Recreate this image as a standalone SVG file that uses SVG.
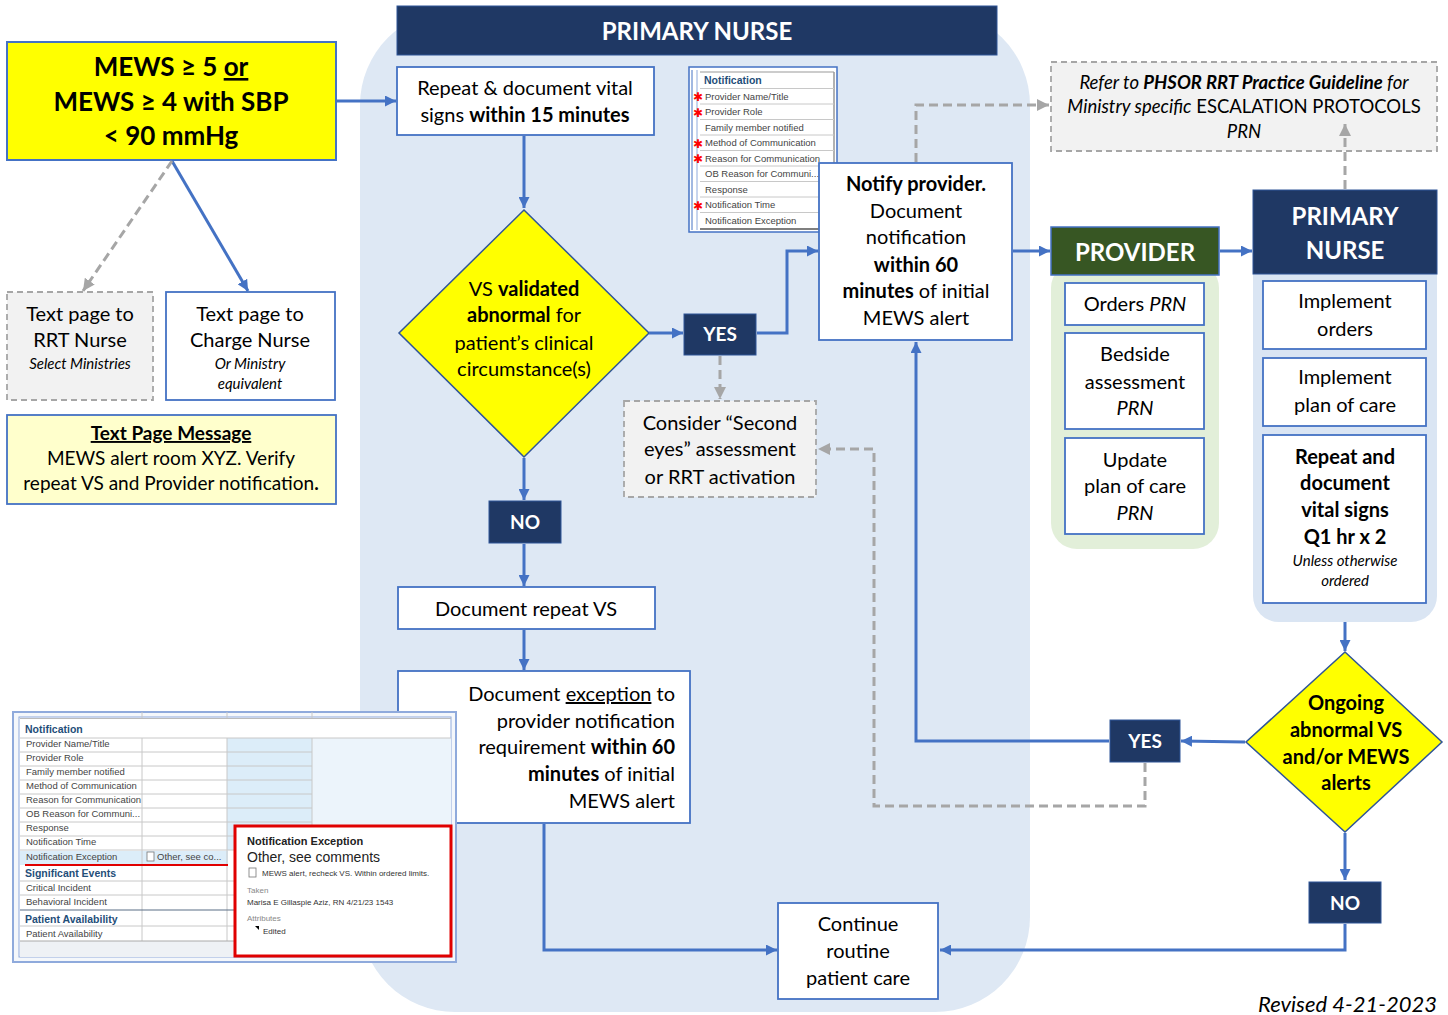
<svg xmlns="http://www.w3.org/2000/svg" width="1448" height="1015" viewBox="0 0 1448 1015">
<defs>
<style>
text{font-family:Lato,"Liberation Sans",sans-serif;fill:#000}
.t{font-size:20px;text-anchor:middle}
.b{font-weight:bold}
.i{font-style:italic}
.hd{font-size:24px;font-weight:bold;fill:#fff;text-anchor:middle}
.yn{font-size:19px;font-weight:bold;fill:#fff;text-anchor:middle}
.sm{font-size:15px;font-style:italic;text-anchor:middle}
.box{fill:#fff;stroke:#4472c4;stroke-width:1.8}
.gbox{fill:#f2f2f2;stroke:#a6a6a6;stroke-width:1.8;stroke-dasharray:6 4}
.navy{fill:#1f3864;stroke:#2f5597;stroke-width:1}
.c{fill:none;stroke:#4472c4;stroke-width:3}
.d{fill:none;stroke:#a6a6a6;stroke-width:3;stroke-dasharray:9 5}
.tb{font-family:"Liberation Sans",Arial,sans-serif;font-size:9.5px;fill:#444}
.th{font-family:"Liberation Sans",Arial,sans-serif;font-size:10.5px;font-weight:bold;fill:#1f4e79}
.gl{stroke:#c8c8c8;stroke-width:1}
.ast{font-family:"DejaVu Sans",sans-serif;font-size:12px;fill:#ff0000;text-anchor:middle}
.pp{font-family:"Liberation Sans",Arial,sans-serif;font-size:8px;fill:#333}
</style>
<marker id="ab" viewBox="0 0 10 10" refX="10" refY="5" markerWidth="11" markerHeight="11" markerUnits="userSpaceOnUse" orient="auto"><path d="M0,0 L10,5 L0,10 z" fill="#4472c4"/></marker>
<marker id="ag" viewBox="0 0 10 10" refX="10" refY="5" markerWidth="12" markerHeight="12" markerUnits="userSpaceOnUse" orient="auto"><path d="M0,0 L10,5 L0,10 z" fill="#a6a6a6"/></marker>
</defs>

<!-- lane backgrounds -->
<rect x="360" y="10" width="670" height="1002" rx="95" fill="#dee8f4"/>
<rect x="1051" y="262" width="168" height="287" rx="26" fill="#e2efd9"/>
<rect x="1253" y="240" width="184" height="382" rx="26" fill="#dae5f3"/>

<g id="mews">
<rect x="7" y="42" width="329" height="118" fill="#ffff00" stroke="#4472c4" stroke-width="2"/>
<text class="t b" x="171" y="76" style="font-size:26px">MEWS ≥ 5 <tspan text-decoration="underline">or</tspan></text>
<text class="t b" x="171" y="111" style="font-size:26px">MEWS ≥ 4 with SBP</text>
<text class="t b" x="171" y="145" style="font-size:26px">&lt; 90 mmHg</text>
</g>

<g id="rrt">
<rect class="gbox" x="7" y="292" width="146" height="108"/>
<text class="t" x="80" y="321">Text page to</text>
<text class="t" x="80" y="347">RRT Nurse</text>
<text class="sm" x="80" y="369">Select Ministries</text>
</g>

<g id="charge">
<rect class="box" x="166" y="292" width="169" height="108"/>
<text class="t" x="250" y="321">Text page to</text>
<text class="t" x="250" y="347">Charge Nurse</text>
<text class="sm" x="250" y="369">Or Ministry</text>
<text class="sm" x="250" y="389">equivalent</text>
</g>

<g id="message">
<rect x="7" y="415" width="329" height="89" fill="#ffffcc" stroke="#4472c4" stroke-width="1.8"/>
<text class="t b" x="171" y="440" style="font-size:19px" text-decoration="underline">Text Page Message</text>
<text class="t" x="171" y="465" style="font-size:19px">MEWS alert room XYZ. Verify</text>
<text class="t" x="171" y="490" style="font-size:19px">repeat VS and Provider notification<tspan class="b">.</tspan></text>
</g>

<g id="primary-nurse-header">
<rect class="navy" x="397" y="6" width="600" height="49"/>
<text class="hd" x="697" y="40">PRIMARY NURSE</text>
</g>

<g id="repeat15">
<rect class="box" x="397" y="67" width="257" height="68"/>
<text class="t" x="525" y="95">Repeat &amp; document vital</text>
<text class="t" x="525" y="122">signs <tspan class="b">within 15 minutes</tspan></text>
</g>

<g id="notif-small">
<rect x="689" y="67" width="148" height="165" fill="#fff" stroke="#4472c4" stroke-width="1.5"/>
<line x1="692" y1="70" x2="692" y2="230" stroke="#4472c4" stroke-width="1"/>
<line x1="697" y1="70" x2="697" y2="230" stroke="#8faadc" stroke-width="1"/>
<line x1="700" y1="72" x2="834" y2="72" stroke="#999" stroke-width="1"/>
<line x1="834" y1="72" x2="834" y2="229" stroke="#999" stroke-width="1.5"/>
<text class="th" x="704" y="84">Notification</text>
<g class="gl">
<line x1="700" y1="88.5" x2="834" y2="88.5"/><line x1="700" y1="104" x2="834" y2="104"/><line x1="700" y1="119.5" x2="834" y2="119.5"/><line x1="700" y1="135" x2="834" y2="135"/><line x1="700" y1="150.5" x2="834" y2="150.5"/><line x1="700" y1="166" x2="834" y2="166"/><line x1="700" y1="181.5" x2="834" y2="181.5"/><line x1="700" y1="197" x2="834" y2="197"/><line x1="700" y1="212.5" x2="834" y2="212.5"/>
</g>
<line x1="700" y1="229" x2="834" y2="229" stroke="#555" stroke-width="1.5"/>
<text class="tb" x="705" y="100">Provider Name/Title</text>
<text class="tb" x="705" y="115">Provider Role</text>
<text class="tb" x="705" y="131">Family member notified</text>
<text class="tb" x="705" y="146">Method of Communication</text>
<text class="tb" x="705" y="162">Reason for Communication</text>
<text class="tb" x="705" y="177">OB Reason for Communi...</text>
<text class="tb" x="705" y="193">Response</text>
<text class="tb" x="705" y="208">Notification Time</text>
<text class="tb" x="705" y="224">Notification Exception</text>
<text class="ast" x="698" y="101">✱</text>
<text class="ast" x="698" y="117">✱</text>
<text class="ast" x="698" y="148">✱</text>
<text class="ast" x="698" y="163">✱</text>
<text class="ast" x="698" y="210">✱</text>
</g>

<g id="vs-diamond">
<polygon points="524,210 649,333 524,457 399,333" fill="#ffff00" stroke="#2f5597" stroke-width="1.5"/>
<text class="t" x="524" y="296">VS <tspan class="b">validated</tspan></text>
<text class="t" x="524" y="322"><tspan class="b">abnormal</tspan> for</text>
<text class="t" x="524" y="350">patient’s clinical</text>
<text class="t" x="524" y="376">circumstance(s)</text>
</g>

<g id="yes1">
<rect class="navy" x="684" y="314" width="72" height="41"/>
<text class="yn" x="720" y="341">YES</text>
</g>

<g id="notify">
<rect class="box" x="819" y="163" width="193" height="177"/>
<text class="t b" x="916" y="191">Notify provider.</text>
<text class="t" x="916" y="218">Document</text>
<text class="t" x="916" y="244">notification</text>
<text class="t b" x="916" y="272">within 60</text>
<text class="t" x="916" y="298"><tspan class="b">minutes</tspan> of initial</text>
<text class="t" x="916" y="325">MEWS alert</text>
</g>

<g id="consider">
<rect class="gbox" x="624" y="401" width="192" height="96"/>
<text class="t" x="720" y="430">Consider “Second</text>
<text class="t" x="720" y="456">eyes” assessment</text>
<text class="t" x="720" y="484">or RRT activation</text>
</g>

<g id="no1">
<rect class="navy" x="489" y="501" width="72" height="42"/>
<text class="yn" x="525" y="529">NO</text>
</g>

<g id="doc-repeat">
<rect class="box" x="398" y="587" width="257" height="42"/>
<text class="t" x="526" y="616">Document repeat VS</text>
</g>

<g id="doc-exception">
<rect class="box" x="398" y="671" width="292" height="152"/>
<text class="t" x="675" y="701" style="text-anchor:end">Document <tspan text-decoration="underline">exception</tspan> to</text>
<text class="t" x="675" y="728" style="text-anchor:end">provider notification</text>
<text class="t" x="675" y="754" style="text-anchor:end">requirement <tspan class="b">within 60</tspan></text>
<text class="t" x="675" y="781" style="text-anchor:end"><tspan class="b">minutes</tspan> of initial</text>
<text class="t" x="675" y="808" style="text-anchor:end">MEWS alert</text>
</g>

<g id="notif-large">
<rect x="13" y="712" width="443" height="250" fill="#f4f7fb" stroke="#8faadc" stroke-width="2"/>
<rect x="19" y="717" width="432" height="240" fill="#fff" stroke="#8faadc" stroke-width="1"/>
<rect x="227" y="738" width="85" height="112" fill="#dcedf9"/>
<rect x="312" y="738" width="139" height="112" fill="#ecf4fb"/>
<rect x="20" y="851" width="208" height="14" fill="#dcedf9"/>
<rect x="20" y="941" width="430" height="16" fill="#eef1f5"/>
<line x1="20" y1="718.5" x2="451" y2="718.5" stroke="#bbb"/>
<g class="gl">
<line x1="20" y1="738" x2="451" y2="738"/><line x1="20" y1="752" x2="312" y2="752"/><line x1="20" y1="766" x2="312" y2="766"/><line x1="20" y1="780" x2="312" y2="780"/><line x1="20" y1="794" x2="312" y2="794"/><line x1="20" y1="808" x2="312" y2="808"/><line x1="20" y1="822" x2="312" y2="822"/><line x1="20" y1="836" x2="312" y2="836"/><line x1="20" y1="850" x2="312" y2="850"/>
<line x1="20" y1="881" x2="451" y2="881"/><line x1="20" y1="895" x2="451" y2="895"/><line x1="20" y1="926" x2="451" y2="926"/>
<line x1="142" y1="738" x2="142" y2="941"/><line x1="227" y1="738" x2="227" y2="941"/><line x1="312" y1="738" x2="312" y2="850"/>
<line x1="142" y1="712" x2="142" y2="718"/><line x1="227" y1="712" x2="227" y2="718"/><line x1="312" y1="712" x2="312" y2="718"/>
</g>
<line x1="20" y1="910" x2="451" y2="910" stroke="#5a6e86" stroke-width="1.2"/>
<line x1="20" y1="941" x2="451" y2="941" stroke="#aaa" stroke-width="1"/>
<line x1="25" y1="865" x2="228" y2="865" stroke="#e00000" stroke-width="2"/>
<text class="th" x="25" y="733">Notification</text>
<text class="tb" x="26" y="747">Provider Name/Title</text>
<text class="tb" x="26" y="761">Provider Role</text>
<text class="tb" x="26" y="775">Family member notified</text>
<text class="tb" x="26" y="789">Method of Communication</text>
<text class="tb" x="26" y="803">Reason for Communication</text>
<text class="tb" x="26" y="817">OB Reason for Communi...</text>
<text class="tb" x="26" y="831">Response</text>
<text class="tb" x="26" y="845">Notification Time</text>
<text class="tb" x="26" y="860">Notification Exception</text>
<rect x="147" y="852" width="7" height="9" fill="#fff" stroke="#777" stroke-width="0.8"/>
<text class="tb" x="157" y="860">Other, see co...</text>
<text class="th" x="25" y="877">Significant Events</text>
<text class="tb" x="26" y="891">Critical Incident</text>
<text class="tb" x="26" y="905">Behavioral Incident</text>
<text class="th" x="25" y="923">Patient Availability</text>
<text class="tb" x="26" y="937">Patient Availability</text>
<rect x="235" y="826" width="216" height="130" fill="#fff" stroke="#e00000" stroke-width="3"/>
<text x="247" y="845" style="font-family:'Liberation Sans',Arial,sans-serif;font-size:11px;font-weight:bold;fill:#222">Notification Exception</text>
<text x="247" y="862" style="font-family:'Liberation Sans',Arial,sans-serif;font-size:14px;fill:#222">Other, see comments</text>
<rect x="249" y="868" width="7" height="9" fill="#fff" stroke="#777" stroke-width="0.8"/>
<text class="pp" x="262" y="876">MEWS alert, recheck VS. Within ordered limits.</text>
<text class="pp" x="247" y="893" style="fill:#888">Taken</text>
<text class="pp" x="247" y="905">Marisa E Gillaspie Aziz, RN 4/21/23 1543</text>
<text class="pp" x="247" y="921" style="fill:#888">Attributes</text>
<path d="M255,926 L259,926 L259,930 z" fill="#000"/>
<text class="pp" x="263" y="934">Edited</text>
</g>

<g id="continue">
<rect class="box" x="778" y="903" width="160" height="96"/>
<text class="t" x="858" y="931">Continue</text>
<text class="t" x="858" y="958">routine</text>
<text class="t" x="858" y="985">patient care</text>
</g>

<g id="refer">
<rect class="gbox" x="1051" y="62" width="386" height="89"/>
<text class="t i" x="1244" y="89" style="font-size:18.5px">Refer to <tspan class="b">PHSOR RRT Practice Guideline</tspan> for</text>
<text class="t" x="1244" y="113" style="font-size:18.5px"><tspan class="i">Ministry specific</tspan> ESCALATION PROTOCOLS</text>
<text class="t i" x="1244" y="138" style="font-size:18.5px">PRN</text>
</g>

<g id="provider">
<rect x="1051" y="227" width="168" height="48" fill="#375623" stroke="#4472c4" stroke-width="1.5"/>
<text class="hd" x="1135" y="261">PROVIDER</text>
</g>
<g id="orders-prn">
<rect class="box" x="1065" y="283" width="139" height="42"/>
<text class="t" x="1135" y="311">Orders <tspan class="i">PRN</tspan></text>
</g>
<g id="bedside">
<rect class="box" x="1065" y="333" width="139" height="96"/>
<text class="t" x="1135" y="361">Bedside</text>
<text class="t" x="1135" y="389">assessment</text>
<text class="t i" x="1135" y="415">PRN</text>
</g>
<g id="update-plan">
<rect class="box" x="1065" y="438" width="139" height="96"/>
<text class="t" x="1135" y="467">Update</text>
<text class="t" x="1135" y="493">plan of care</text>
<text class="t i" x="1135" y="520">PRN</text>
</g>

<g id="primary-nurse-2">
<rect class="navy" x="1253" y="190" width="184" height="84"/>
<text class="hd" x="1345" y="225">PRIMARY</text>
<text class="hd" x="1345" y="259">NURSE</text>
</g>
<g id="impl-orders">
<rect class="box" x="1263" y="281" width="163" height="68"/>
<text class="t" x="1345" y="308">Implement</text>
<text class="t" x="1345" y="336">orders</text>
</g>
<g id="impl-plan">
<rect class="box" x="1263" y="358" width="163" height="68"/>
<text class="t" x="1345" y="384">Implement</text>
<text class="t" x="1345" y="412">plan of care</text>
</g>
<g id="repeat-q1">
<rect class="box" x="1263" y="435" width="163" height="168"/>
<text class="t b" x="1345" y="464">Repeat and</text>
<text class="t b" x="1345" y="490">document</text>
<text class="t b" x="1345" y="517">vital signs</text>
<text class="t b" x="1345" y="544">Q1 hr x 2</text>
<text class="sm" x="1345" y="566">Unless otherwise</text>
<text class="sm" x="1345" y="586">ordered</text>
</g>

<g id="ongoing">
<polygon points="1345,652 1442,742 1345,832 1246,742" fill="#ffff00" stroke="#2f5597" stroke-width="1.5"/>
<text class="t b" x="1346" y="710">Ongoing</text>
<text class="t b" x="1346" y="737">abnormal VS</text>
<text class="t b" x="1346" y="764">and/or MEWS</text>
<text class="t b" x="1346" y="790">alerts</text>
</g>

<g id="yes2">
<rect class="navy" x="1110" y="720" width="70" height="42"/>
<text class="yn" x="1145" y="748">YES</text>
</g>
<g id="no2">
<rect class="navy" x="1309" y="882" width="72" height="41"/>
<text class="yn" x="1345" y="910">NO</text>
</g>

<g id="connectors">
<line class="c" x1="336" y1="101" x2="396" y2="101" marker-end="url(#ab)"/>
<line class="c" x1="172" y1="161" x2="248" y2="291" marker-end="url(#ab)"/>
<line class="d" x1="172" y1="161" x2="83" y2="291" marker-end="url(#ag)"/>
<line class="c" x1="524" y1="136" x2="524" y2="208" marker-end="url(#ab)"/>
<line class="c" x1="649" y1="333" x2="683" y2="333" marker-end="url(#ab)"/>
<polyline class="c" points="757,333 787,333 787,251 818,251" marker-end="url(#ab)"/>
<line class="d" x1="720" y1="356" x2="720" y2="399" marker-end="url(#ag)"/>
<line class="c" x1="524" y1="458" x2="524" y2="500" marker-end="url(#ab)"/>
<line class="c" x1="524" y1="544" x2="524" y2="586" marker-end="url(#ab)"/>
<line class="c" x1="524" y1="630" x2="524" y2="670" marker-end="url(#ab)"/>
<polyline class="c" points="544,824 544,950 777,950" marker-end="url(#ab)"/>
<polyline class="d" points="916,162 916,105 1049,105" marker-end="url(#ag)"/>
<line class="c" x1="1013" y1="251" x2="1050" y2="251" marker-end="url(#ab)"/>
<line class="c" x1="1220" y1="251" x2="1252" y2="251" marker-end="url(#ab)"/>
<line class="d" x1="1345" y1="189" x2="1345" y2="124" marker-end="url(#ag)"/>
<line class="c" x1="1345" y1="622" x2="1345" y2="651" marker-end="url(#ab)"/>
<line class="c" x1="1245" y1="742" x2="1181" y2="741" marker-end="url(#ab)"/>
<polyline class="c" points="1109,741 916,741 916,342" marker-end="url(#ab)"/>
<polyline class="d" points="1145,763 1145,806 874,806 874,449 818,449" marker-end="url(#ag)"/>
<line class="c" x1="1345" y1="833" x2="1345" y2="880" marker-end="url(#ab)"/>
<polyline class="c" points="1345,924 1345,950 940,950" marker-end="url(#ab)"/>
</g>

<text class="i" x="1437" y="1012" style="font-size:22px;text-anchor:end">Revised 4-21-2023</text>
</svg>
